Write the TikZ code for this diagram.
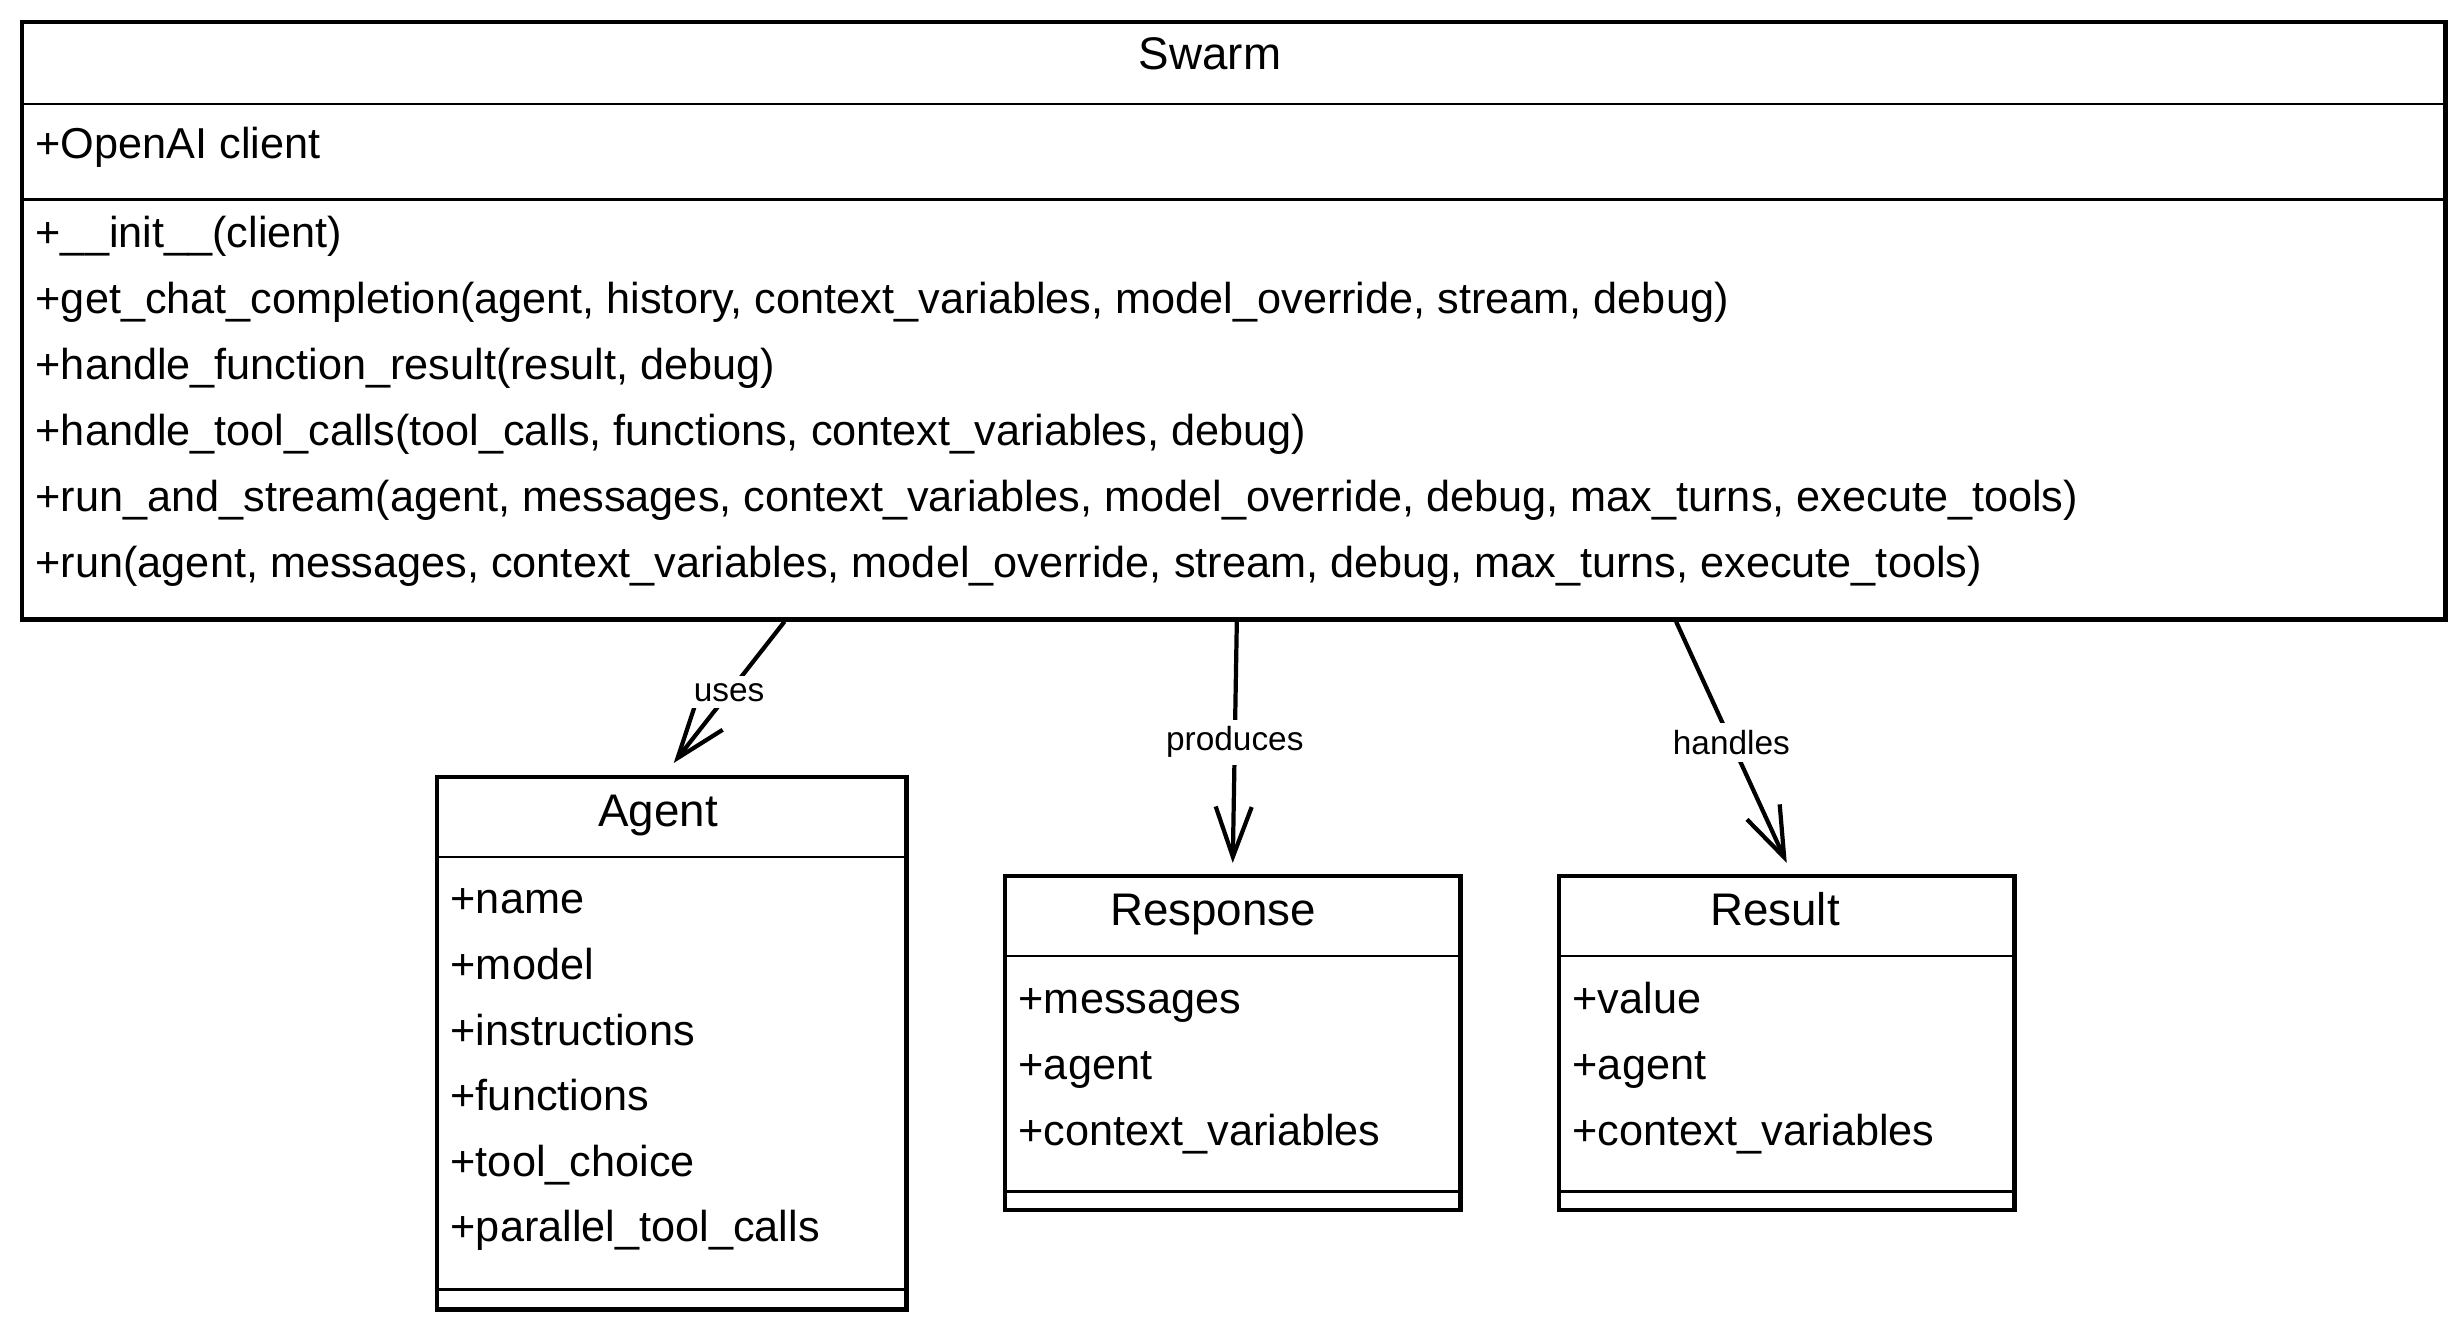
\documentclass[tikz,border=0pt]{standalone}
\usepackage{fontspec}
\setmainfont{Liberation Sans}
\usetikzlibrary{arrows.meta,positioning,calc}
\tikzset{
  cls/.style={draw, line width=1.2pt, anchor=north west, inner sep=0pt},
  sep/.style={line width=0.8pt},
  ttl/.style={inner sep=0pt, yshift=-0.06cm, text height=1.6ex, text depth=0.5ex, font=\fontsize{13}{15}\selectfont},
  mem/.style={anchor=west, inner sep=0pt, yshift=-0.05cm, text height=1.6ex, text depth=0.5ex, font=\fontsize{12.3}{15}\selectfont},
  lbl/.style={fill=white, inner sep=2pt, font=\fontsize{9.5}{11}\selectfont},
  dep/.style={line width=1.2pt, -{Straight Barb[length=5mm, width=3.6mm, line width=1.2pt]}}
}

\begin{document}
\begin{tikzpicture}[x=0.01cm, y=-0.01cm]
\useasboundingbox (0,0) rectangle (2461,1328);

% classes
\node[cls, minimum width=24.22cm, minimum height=5.97cm] (swarm) at (20,20) {};
\node[cls, minimum width=4.69cm, minimum height=5.32cm] (agent) at (435,775) {};
\node[cls, minimum width=4.55cm, minimum height=3.34cm] (response) at (1003,874) {};
\node[cls, minimum width=4.55cm, minimum height=3.34cm] (result) at (1557,874) {};

% Swarm
\node[ttl] (swarmT) at (1210,53) {Swarm};
\draw[sep] ([yshift=-0.84cm]swarm.north west) -- ([yshift=-0.84cm]swarm.north east);
\draw[sep] ([yshift=-1.79cm]swarm.north west) -- ([yshift=-1.79cm]swarm.north east);
\node[mem] (swarmA) at (35,143) {+OpenAI client};
\foreach \t [count=\i] in {
  {+\_\_init\_\_(client)},
  {+get\_chat\_completion(agent, history, context\_variables, model\_override, stream, debug)},
  {+handle\_function\_result(result, debug)},
  {+handle\_tool\_calls(tool\_calls, functions, context\_variables, debug)},
  {+run\_and\_stream(agent, messages, context\_variables, model\_override, debug, max\_turns, execute\_tools)},
  {+run(agent, messages, context\_variables, model\_override, stream, debug, max\_turns, execute\_tools)}}
  \node[mem] (swarmM\i) at (35,166+66*\i) {\t};

% Agent
\node[ttl] (agentT) at (658,810) {Agent};
\draw[sep] ([yshift=-0.82cm]agent.north west) -- ([yshift=-0.82cm]agent.north east);
\draw[sep] ([yshift=0.22cm]agent.south west) -- ([yshift=0.22cm]agent.south east);
\foreach \t [count=\i] in {+name, +model, +instructions, +functions,
  +tool\_choice, +parallel\_tool\_calls}
  \node[mem] (agentA\i) at (450,833+65.6*\i) {\t};

% Response
\node[ttl] (responseT) at (1213,909) {Response};
\draw[sep] ([yshift=-0.82cm]response.north west) -- ([yshift=-0.82cm]response.north east);
\draw[sep] ([yshift=0.21cm]response.south west) -- ([yshift=0.21cm]response.south east);
\foreach \t [count=\i] in {+messages, +agent, +context\_variables}
  \node[mem] (responseA\i) at (1018,932+66*\i) {\t};

% Result
\node[ttl] (resultT) at (1775,909) {Result};
\draw[sep] ([yshift=-0.82cm]result.north west) -- ([yshift=-0.82cm]result.north east);
\draw[sep] ([yshift=0.21cm]result.south west) -- ([yshift=0.21cm]result.south east);
\foreach \t [count=\i] in {+value, +agent, +context\_variables}
  \node[mem] (resultA\i) at (1572,932+66*\i) {\t};

% relations
\draw[dep] ([xshift=-4.49cm]swarm.south) -- node[lbl] {uses} ([xshift=0.02cm, yshift=0.12cm]agent.north);
\draw[dep] ([xshift=0.03cm]swarm.south) -- node[lbl] {produces} ([yshift=0.11cm]response.north);
\draw[dep] ([xshift=4.42cm]swarm.south) -- node[lbl] {handles} ([yshift=0.11cm]result.north);
\end{tikzpicture}
\end{document}
